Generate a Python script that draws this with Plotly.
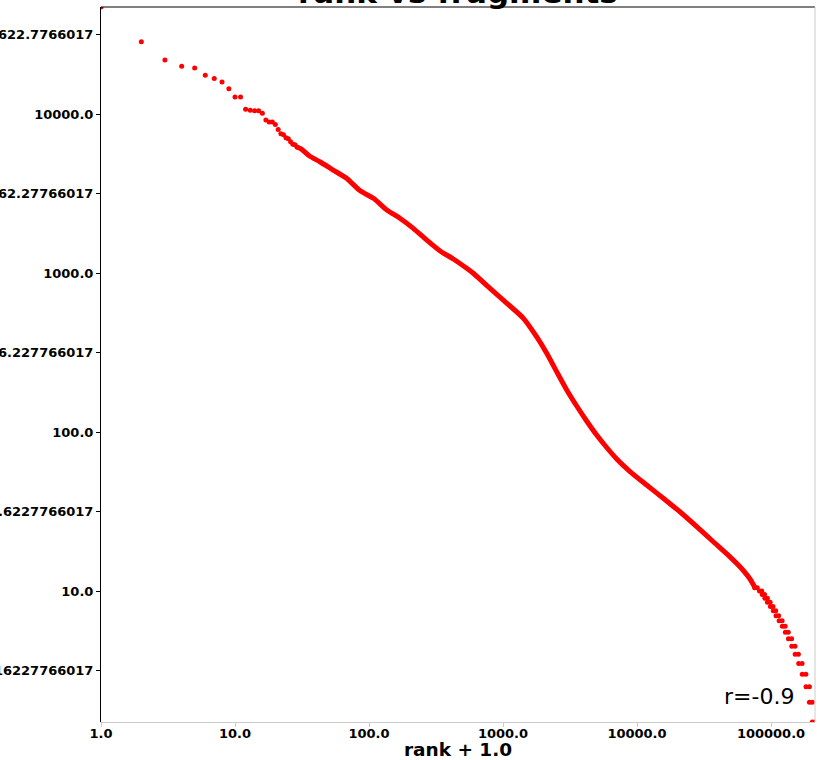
import plotly.graph_objects as go
import numpy as np

# --- data (x = rank + 1.0, y = fragments) ---
# sparse head of the ranking
head_x = [1, 2, 3, 4, 5, 6, 7, 8, 9, 10, 11, 12, 13, 14, 15, 16, 17, 18, 19, 20,
          21, 22, 23, 24, 25, 26, 27, 28, 29]
head_y = [47100, 28500, 21900, 20000, 19500, 17500, 16700, 15900, 14400, 12800,
          12800, 10700, 10550, 10500, 10500, 10100, 9170, 8900, 8900, 8600,
          8000, 7500, 7400, 7100, 7000, 6700, 6450, 6400, 6200]

# dense middle, points so close they merge into one band
mid_x = [29, 31.5, 36, 43, 54, 68, 86, 108, 136, 170, 214, 270, 340, 426, 536, 600,
         800, 1070, 1420, 1780, 2120, 2520, 2990, 3550, 4210, 5000, 5940, 7060,
         8870, 11800, 15700, 20900, 27900, 37100, 49400, 58700, 69700, 76000]
mid_y = [6200, 6000, 5440, 5010, 4440, 3940, 3290, 2950, 2490, 2210, 1910, 1610,
         1375, 1225, 1070, 996, 801, 645, 519, 398, 313, 239, 184, 145.7, 117.3,
         95.7, 79.9, 67.7, 56.4, 46.4, 38.3, 31.5, 25.4, 20.4, 16.4, 14.2, 11.9,
         10.5]

# tail: fragment counts fall in half steps, each level is a short run of ranks
tail_level = [10.5, 10, 9.5, 9, 8.5, 8, 7.5, 7, 6.5, 6, 5.5, 5, 4.5, 4, 3.5, 3,
              2.5, 2, 1.5]
tail_start = [75500, 82000, 86000, 90000, 94000, 99000, 104000, 109000, 115000,
              121500, 128000, 135000, 143000, 151500, 161000, 171000, 182500,
              193500, 203500]
tail_end = [79000, 85500, 89500, 94000, 98500, 103500, 108500, 114000, 121000,
            127500, 134500, 142500, 151000, 160000, 170500, 182000, 193500,
            203000, 213000]

x_ticks = [1, 10, 100, 1000, 10000, 100000]
x_labels = ["1.0", "10.0", "100.0", "1000.0", "10000.0", "100000.0"]
y_ticks = [3.16227766017, 10.0, 31.6227766017, 100.0, 316.227766017, 1000.0,
           3162.27766017, 10000.0, 31622.7766017]
y_labels = ["3.16227766017", "10.0", "31.6227766017", "100.0", "316.227766017",
            "1000.0", "3162.27766017", "10000.0", "31622.7766017"]

r_value = -0.9

tail_x, tail_y = [], []
for lvl, s, e in zip(tail_level, tail_start, tail_end):
    tail_x += [s, e]
    tail_y += [lvl, lvl]

all_x = head_x + mid_x + tail_x
all_y = head_y + mid_y + tail_y

RED = "#ff0000"
FONT = "DejaVu Sans"

fig = go.Figure()

fig.add_trace(go.Scatter(
    x=mid_x, y=mid_y, mode="lines",
    line=dict(color=RED, width=5, shape="spline", smoothing=0.6),
    hoverinfo="skip", showlegend=False
))
fig.add_trace(go.Scatter(
    x=head_x + tail_x, y=head_y + tail_y, mode="markers",
    marker=dict(color=RED, size=5, line=dict(width=0)), showlegend=False
))

fig.update_xaxes(
    type="log", automargin=False,
    range=[np.log10(min(all_x)), np.log10(max(all_x))],
    tickvals=x_ticks, ticktext=x_labels,
    tickfont=dict(family=FONT, size=13, color="black", weight="bold"),
    ticks="outside", ticklen=4, tickcolor="#cccccc", ticklabelstandoff=-5,
    showline=True, linecolor="#cccccc", linewidth=1,
    showgrid=False, zeroline=False,
    title=dict(text="rank + 1.0", standoff=2,
               font=dict(family=FONT, size=18.5, color="black", weight="bold")),
)
fig.update_yaxes(
    type="log", automargin=False,
    range=[np.log10(min(all_y)), np.log10(max(all_y))],
    tickvals=y_ticks, ticktext=y_labels,
    tickfont=dict(family=FONT, size=13, color="black", weight="bold"),
    ticks="outside", ticklen=4, tickcolor="black",
    showline=True, linecolor="black", linewidth=1,
    showgrid=False, zeroline=False,
)

# top spine dark, right spine light like the reference
fig.add_shape(type="line", xref="paper", yref="paper", x0=0, x1=1, y0=1, y1=1,
              line=dict(color="black", width=1))
fig.add_shape(type="line", xref="paper", yref="paper", x0=1, x1=1, y0=0, y1=1,
              line=dict(color="#cccccc", width=1))

fig.add_annotation(
    text=f"r={r_value}", xref="paper", yref="paper", x=0.973, y=0.035,
    xanchor="right", yanchor="middle", showarrow=False,
    font=dict(family=FONT, size=22, color="black")
)

fig.update_layout(
    width=817, height=760,
    margin=dict(l=101, r=2, t=7, b=38),
    paper_bgcolor="white", plot_bgcolor="white",
    title=dict(text="rank vs fragments", x=0.5605, xanchor="center",
               yref="container", y=1 - 3 / 760, yanchor="bottom",
               automargin=False,
               font=dict(family=FONT, size=31, color="black", weight="bold")),
)

# page body has a default 8px margin; drop it so the figure sits at the corner
fig.write_html("out.html", config={"displayModeBar": False},
               post_script="document.body.style.margin='0';")
